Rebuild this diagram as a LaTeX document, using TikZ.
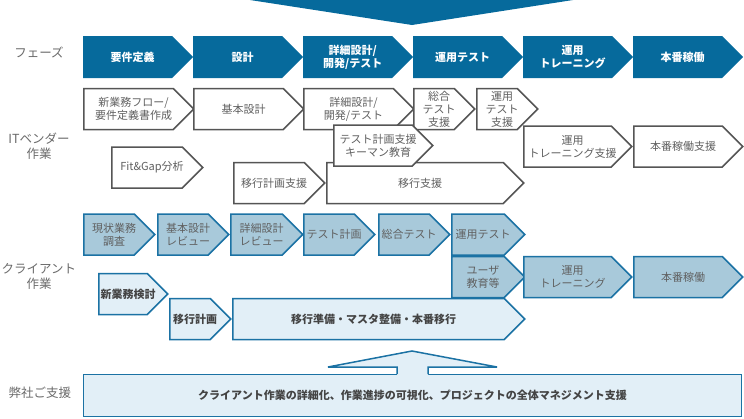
\documentclass[tikz,border=0pt]{standalone}
\usepackage{fontspec}
\setmainfont{Noto Sans CJK JP}
\usetikzlibrary{shapes.symbols}
\definecolor{phaseblue}{HTML}{066A9C}
\definecolor{cblue}{HTML}{1B72A4}
\definecolor{cmid}{HTML}{A8C9DA}
\definecolor{clight}{HTML}{E2EFF7}
\definecolor{vgray}{HTML}{555555}
\definecolor{tgray}{HTML}{606060}
\definecolor{lgray}{HTML}{6A6A6A}
\definecolor{dgray}{HTML}{444444}
\begin{document}
\begin{tikzpicture}[x=1pt,y=-1pt,
    chev/.style={signal, signal to=east, signal pointer angle=90, minimum height=41pt, inner sep=0pt, anchor=west},
    tx/.style={align=center, inner sep=0pt, xshift=5pt, text=tgray, font=\fontsize{11}{13}\selectfont},
    txb/.style={tx, font=\fontsize{11}{13}\selectfont\bfseries},
    phase/.style={chev, minimum height=42pt, minimum width=110pt, fill=phaseblue, label={[txb, text=white]center:#1}},
    vendor/.style={chev, draw=vgray, line width=1.5pt, fill=white, label={[tx]center:#1}},
    client/.style={chev, draw=cblue, line width=1.5pt, fill=cmid, label={[tx]center:#1}},
    clientlt/.style={chev, draw=cblue, line width=1.5pt, fill=clight, label={[txb, text=dgray]center:#1}},
    rowlabel/.style={text=lgray, align=center, font=\fontsize{12.5}{15}\selectfont}]
      \useasboundingbox (0,0) rectangle (744,418);
      \fill[phaseblue] (250,0) -- (573,0) -- (412,25) -- cycle;
      \node[rowlabel] at (39,52) (lphase){フェーズ};
      \node[rowlabel] at (39,146) (lvendor){ITベンダー\\作業};
      \node[rowlabel] at (39,276) (lclient){クライアント\\作業};
      \node[rowlabel] at (40,393) (lsupport){弊社ご支援};
      \node[phase={要件定義}] at (83,57) (ph1){};
      \node[phase={設計}] at (193,57) (ph2){};
      \node[phase={詳細設計/\\開発/テスト}] at (303,57) (ph3){};
      \node[phase={運用テスト}] at (413,57) (ph4){};
      \node[phase={運用\\トレーニング}] at (523,57) (ph5){};
      \node[phase={本番稼働}] at (633,57) (ph6){};
      \node[vendor={新業務フロー/\\要件定義書作成}, minimum width=110pt] at (83,109) (v1){};
      \node[vendor={基本設計}, minimum width=110pt] at (193,109) (v2){};
      \node[vendor={移行支援}, minimum width=197pt] at (326,183) (v8){};
      \node[vendor={詳細設計/\\開発/テスト}, minimum width=110pt] at (303,109) (v3){};
      \node[vendor={総合\\テスト\\支援}, minimum width=61pt] at (413,109) (v4){};
      \node[vendor={運用\\テスト\\支援}, minimum width=61pt] at (476,109) (v5){};
      \node[vendor={テスト計画支援\\キーマン教育}, minimum width=99pt] at (333,145.5) (v6){};
      \node[vendor={Fit\&Gap分析}, minimum width=91pt] at (111,167.5) (v7){};
      \node[vendor={移行計画支援}, minimum width=91pt] at (233,183) (v9){};
      \node[vendor={運用\\トレーニング支援}, minimum width=108pt] at (523,146.5) (v10){};
      \node[vendor={本番稼働支援}, minimum width=109pt] at (633,146.5) (v11){};
      \node[client={現状業務\\調査}, minimum width=71pt] at (83,234.5) (c1){};
      \node[client={基本設計\\レビュー}, minimum width=71pt] at (157,234.5) (c2){};
      \node[client={詳細設計\\レビュー}, minimum width=72pt] at (230,234.5) (c3){};
      \node[client={テスト計画}, minimum width=71pt] at (303,234.5) (c4){};
      \node[client={総合テスト}, minimum width=71pt] at (378,234.5) (c5){};
      \node[client={運用テスト}, minimum width=73pt] at (451,234.5) (c6){};
      \node[client={ユーザ\\教育等}, minimum width=73pt] at (451,277) (c7){};
      \node[client={運用\\トレーニング}, minimum width=108pt] at (523,277) (c8){};
      \node[client={本番稼働}, minimum width=109pt] at (633,277) (c9){};
      \node[clientlt={新業務検討}, minimum width=69pt] at (98,294) (l1){};
      \node[clientlt={移行計画}, minimum width=61pt] at (169,319) (l2){};
      \node[clientlt={移行準備・マスタ整備・本番移行}, minimum width=292pt] at (232,319) (l3){};
      \node[draw=cblue, line width=1.5pt, fill=clight, minimum width=658pt, minimum height=42pt, text=dgray, font=\fontsize{11}{13}\selectfont\bfseries] at (412.5,395.5) (support){クライアント作業の詳細化、作業進捗の可視化、プロジェクトの全体マネジメント支援};
      \fill[clight] (397,376) -- (397,367) -- (328,367) -- (412,351) -- (497,367) -- (428,367) -- (428,376) -- cycle;
      \draw[cblue, line width=1.5pt] (397,374) -- (397,367) -- (328,367) -- (412,351) -- (497,367) -- (428,367) -- (428,374);
    \end{tikzpicture}
\end{document}
